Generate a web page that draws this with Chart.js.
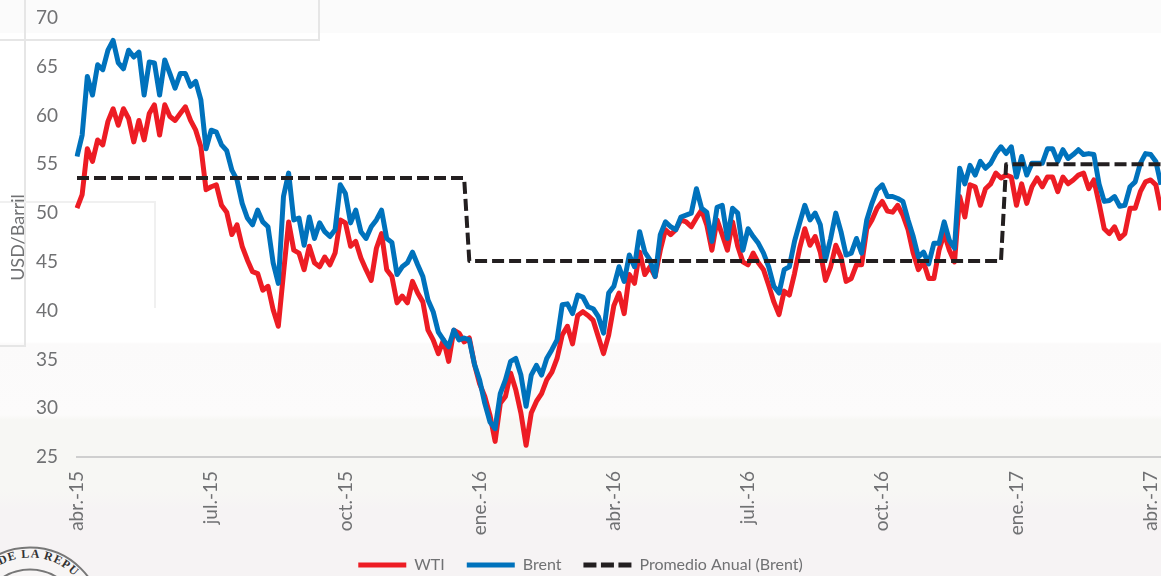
<!DOCTYPE html>
<html>
<head>
<meta charset="utf-8">
<title>WTI y Brent</title>
<script src="https://cdn.jsdelivr.net/npm/chart.js@4/dist/chart.umd.min.js"></script>
<style>
    html, body { margin: 0; padding: 0; }
    #wrap {
        position: relative; width: 1161px; height: 576px; overflow: hidden;
        background: linear-gradient(#fbfbfb 0, #fbfbfb 33px, #fff 33px, #fff 342px, #fbfafa 344px, #fcfbfb 415px, #f7f7f4 420px, #f7f7f4 490px, #f6f3f4 510px);
    }
    #wrap canvas { position: absolute; left: 0; top: 0; }
    .ghost { position: absolute; border: 0 solid #e6e6e6; }
    #seal { position: absolute; left: 0; top: 540px; }
</style>
</head>
<body>
<div id="wrap">
    <!-- faint leftovers of the scanned page -->
    <div class="ghost" style="left:0;top:0;width:318px;height:39px;border-right-width:2px;border-bottom-width:2px;"></div>
    <div class="ghost" style="left:24px;top:0;width:0;height:347px;border-left-width:2px;"></div>
    <div class="ghost" style="left:0;top:345px;width:24px;height:0;border-top-width:2px;"></div>
    <div class="ghost" style="left:0;top:201px;width:154px;height:105px;border-top-width:2px;border-right-width:2px;border-color:#f0f0f0;"></div>
    <svg id="seal" width="100" height="36" viewBox="0 0 100 36">
        <defs><path id="sealArc" d="M -32 79.5 A 62 62 0 0 1 92 79.5"></path></defs>
        <circle cx="30" cy="79.5" r="72" fill="#f7f5f5" stroke="#777" stroke-width="2"></circle>
        <text font-family="Liberation Serif" font-size="12" font-weight="bold" letter-spacing="1" fill="#333"><textPath href="#sealArc" startOffset="66">DE LA REPU</textPath></text>
        <circle cx="30" cy="79.5" r="50" fill="#f7f5f5" stroke="#777" stroke-width="2"></circle>
    </svg>
    <canvas id="oilChart" width="1161" height="576"></canvas>
</div>
<script>
const tickLabels = ['abr.-15', 'jul.-15', 'oct.-15', 'ene.-16', 'abr.-16', 'jul.-16', 'oct.-16', 'ene.-17', 'abr.-17'];
const pointsPerTick = 26;

// USD/barril, two readings per week
const wti = [
    50.5, 51.9, 56.6, 55.3, 57.5, 57, 59.4, 60.7, 59, 60.7,
    59.7, 57.3, 59.5, 57.5, 60.2, 61.1, 58, 61.1, 59.9, 59.5,
    60.2, 60.9, 59.5, 58.5, 56.8, 52.4, 52.7, 52.9, 50.8, 50.1,
    47.8, 48.8, 46.6, 45.2, 44, 43.8, 42.1, 42.5, 40.1, 38.4,
    43.8, 49.1, 46.2, 45.9, 44.2, 46.6, 44.9, 44.5, 45.5, 44.7,
    45.9, 49.3, 49, 46.6, 47.1, 45.4, 44.2, 43.1, 46.4, 47.9,
    44.2, 43.5, 40.8, 41.5, 40.8, 43, 41.8, 40.9, 38, 37,
    35.6, 37, 34.8, 38, 37.7, 36.8, 37.2, 34.5, 32.5, 31.2,
    29.3, 26.6, 30.5, 31.2, 33.6, 31.9, 29.5, 26.2, 29.5, 30.7,
    31.5, 32.9, 33.7, 35.1, 37.5, 38.4, 36.6, 39.5, 39.9, 39.5,
    39, 37.3, 35.6, 37.5, 40.5, 41.8, 39.7, 43.7, 42.8, 46,
    43.7, 44.5, 43.5, 46.2, 48.3, 47.8, 48.3, 49.3, 49.1, 48.6,
    49.5, 50.3, 48.8, 46.2, 49.3, 47.8, 46.2, 49.1, 46.6, 45,
    44.7, 45.9, 44.9, 44.2, 42.6, 40.9, 39.6, 42, 41.6, 43.8,
    46.4, 48.4, 46.7, 47.6, 46, 43.1, 44.5, 46.7, 45.5, 43,
    43.3, 44.7, 44.7, 48.4, 49.3, 50.5, 51.2, 50.2, 50.1, 50.8,
    49.8, 48.3, 45.9, 44.2, 45, 43.3, 43.3, 46.2, 47.9, 46.2,
    45, 51.7, 49.6, 52.9, 52.7, 50.8, 52.5, 53, 54.1, 53.6,
    53.9, 53.7, 50.8, 53, 51, 52.7, 53.6, 52.7, 53.7, 53.7,
    52.2, 53.7, 53, 53.4, 53.9, 54.1, 52.5, 53.4, 51, 48.4,
    47.9, 48.6, 47.4, 47.9, 50.5, 50.5, 52.2, 53.2, 53.4, 52.9,
    50.3
];
const brent = [
    55.8, 58, 64, 62.1, 65.2, 64.7, 66.7, 67.7, 65.4, 64.8,
    66.7, 66, 66.5, 62.1, 65.5, 65.4, 62.1, 65.7, 64.3, 62.8,
    64.3, 64.3, 63, 63.5, 61.6, 56.6, 58.5, 58.3, 57, 56.4,
    54.4, 53.4, 51, 49.5, 48.8, 50.3, 49.1, 48.6, 44.9, 42.8,
    51.7, 54.1, 49.3, 49.5, 46.7, 49.6, 47.4, 49, 48.1, 47.6,
    48.3, 52.9, 52, 49, 50.3, 48.1, 47.4, 48.6, 49.3, 50.3,
    47.4, 47, 43.7, 44.5, 44.9, 46, 44.7, 43.5, 41.1, 39.9,
    37.8, 37, 36.3, 38, 37, 37.2, 37, 34.5, 32.9, 30.5,
    28.6, 27.9, 31.5, 32.9, 34.8, 35.1, 33.4, 30.2, 33.4, 34.4,
    33.4, 35.1, 36, 37, 40.6, 40.7, 39.7, 41.6, 41.4, 40.4,
    40.2, 39.4, 37.7, 41.8, 42.5, 44.5, 43, 45.7, 44.5, 48.1,
    46, 45.2, 43.5, 47.8, 49.1, 48.6, 48.3, 49.6, 49.8, 50,
    52.5, 50.5, 50.1, 47.1, 50.6, 50.8, 47.4, 50.5, 50, 46.2,
    48.4, 47.6, 46.9, 45.9, 44.5, 42.5, 41.8, 44.2, 44.5, 47.1,
    49, 50.8, 49.3, 50, 48.8, 45.2, 47.4, 50, 48.1, 45.7,
    45.9, 47.4, 45.9, 49.3, 51, 52.4, 52.9, 51.7, 51.7, 51.5,
    51.2, 49.3, 47.6, 45.5, 46, 44.8, 46.9, 46.9, 49.1, 47.2,
    46.4, 54.6, 53, 54.9, 53.9, 55.3, 54.6, 55.1, 56.1, 56.8,
    56.1, 56.8, 53.7, 55.8, 53.9, 55.1, 55.1, 55.1, 56.6, 56.6,
    55.3, 56.5, 55.6, 56, 56.5, 56, 56.1, 56, 53, 51.2,
    51.3, 51.7, 50.7, 50.8, 52.7, 53.2, 55.1, 56.1, 56, 55.3,
    52.9
];

// yearly Brent average: one level per year and the point count it covers
const avgLevels = [53.6, 45.1, 55];
const avgSpans = [76, 104, 31];
const avgBrent = avgLevels.flatMap((level, i) => Array(avgSpans[i]).fill(level));

const categories = wti.map((_, i) => (i % pointsPerTick === 0 ? tickLabels[i / pointsPerTick] : ''));

const textColor = '#707173';
const fontFamily = 'Lato';

new Chart(document.getElementById('oilChart').getContext('2d'), {
    type: 'line',
    data: {
        labels: categories,
        datasets: [
            { label: 'WTI', data: wti, borderColor: '#ed1c24', backgroundColor: '#ed1c24', borderWidth: 5, order: 3 },
            { label: 'Brent', data: brent, borderColor: '#0072bc', backgroundColor: '#0072bc', borderWidth: 5, order: 2 },
            { label: 'Promedio Anual (Brent)', data: avgBrent, borderColor: '#231f20', backgroundColor: '#231f20', borderWidth: 4, borderDash: [12, 5], order: 1 }
        ]
    },
    options: {
        responsive: false,
        animation: false,
        elements: { point: { radius: 0 }, line: { tension: 0, borderJoinStyle: 'round' } },
        layout: { padding: { top: 18, right: 0, bottom: -7, left: 0 } },
        plugins: {
            tooltip: { enabled: false },
            legend: {
                position: 'bottom',
                labels: {
                    usePointStyle: true,
                    pointStyle: 'line',
                    pointStyleWidth: 48,
                    boxHeight: 14,
                    padding: 22,
                    color: textColor,
                    font: { family: fontFamily, size: 16 },
                    sort: (a, b) => a.datasetIndex - b.datasetIndex,
                    generateLabels: (chart) => Chart.defaults.plugins.legend.labels.generateLabels(chart).map((item) => {
                        const ds = chart.data.datasets[item.datasetIndex];
                        return { ...item, lineWidth: 5, strokeStyle: ds.borderColor, lineDash: ds.borderDash ? [13, 4.5] : [] };
                    })
                }
            }
        },
        scales: {
            x: {
                type: 'category',
                offset: false,
                grid: { display: false, drawTicks: false },
                border: { display: true, color: '#cfcfcf', width: 2 },
                afterFit: (scale) => { scale.height = 78; scale.paddingLeft = 0; scale.paddingRight = 0; },
                ticks: {
                    autoSkip: false,
                    minRotation: 90,
                    maxRotation: 90,
                    padding: 14,
                    color: textColor,
                    font: { family: fontFamily, size: 19 }
                }
            },
            y: {
                min: 25,
                max: 70,
                grid: { display: false, drawTicks: false },
                border: { display: false },
                afterFit: (scale) => { scale.width = 77; scale.paddingTop = 0; scale.paddingBottom = 0; },
                title: {
                    display: true,
                    text: 'USD/Barril',
                    color: textColor,
                    padding: { top: 7, bottom: 0 },
                    font: { family: fontFamily, size: 18 }
                },
                ticks: {
                    stepSize: 5,
                    padding: 19,
                    color: textColor,
                    font: { family: fontFamily, size: 19 }
                }
            }
        }
    }
});
</script>
</body>
</html>
